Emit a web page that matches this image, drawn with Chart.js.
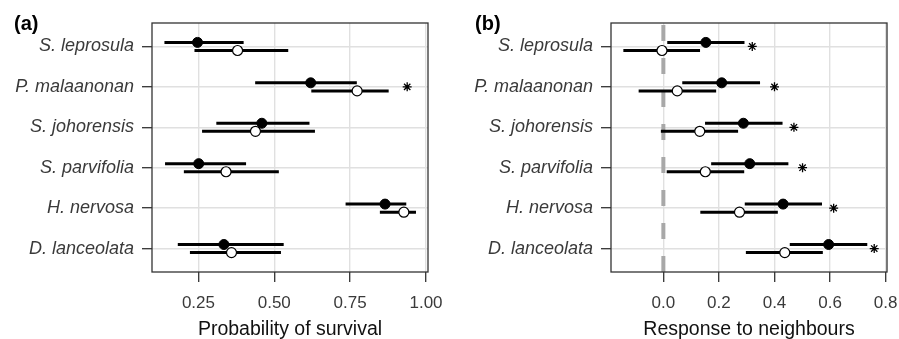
<!DOCTYPE html>
<html>
<head>
<meta charset="utf-8">
<script src="https://cdn.jsdelivr.net/npm/chart.js@4.4.1/dist/chart.umd.min.js"></script>
<style>
  html, body { margin: 0; padding: 0; background: #fff; }
  #wrap { position: relative; width: 899px; height: 339px; overflow: hidden; }
  canvas { position: absolute; top: 0; }
  #cA { left: 0; }
  #cB { left: 449px; }
  .tag { position: absolute; top: 13px; font: bold 20px/1 'Liberation Sans', Arial, sans-serif; color: #000; }
</style>
</head>
<body>
<div id="wrap">
  <canvas id="cA" width="449" height="339"></canvas>
  <canvas id="cB" width="450" height="339"></canvas>
  <div class="tag" style="left:14px">(a)</div>
  <div class="tag" style="left:475px">(b)</div>
</div>
<script>
const species = ['S. leprosula', 'P. malaanonan', 'S. johorensis', 'S. parvifolia', 'H. nervosa', 'D. lanceolata'];

// (a) probability of survival
const survFilled   = [0.247, 0.620, 0.459, 0.251, 0.865, 0.334];
const survFilledLo = [0.138, 0.437, 0.309, 0.140, 0.735, 0.182];
const survFilledHi = [0.399, 0.772, 0.616, 0.407, 0.935, 0.531];
const survOpen     = [0.379, 0.773, 0.438, 0.341, 0.927, 0.359];
const survOpenLo   = [0.237, 0.622, 0.262, 0.202, 0.848, 0.222];
const survOpenHi   = [0.546, 0.877, 0.634, 0.515, 0.967, 0.522];
const survStar     = [null, 0.938, null, null, null, null];

// (b) response to neighbours
const respFilled   = [0.153, 0.210, 0.288, 0.311, 0.431, 0.595];
const respFilledLo = [0.014, 0.068, 0.150, 0.172, 0.293, 0.455];
const respFilledHi = [0.292, 0.348, 0.429, 0.450, 0.571, 0.734];
const respOpen     = [-0.005, 0.050, 0.131, 0.151, 0.274, 0.437];
const respOpenLo   = [-0.144, -0.089, -0.009, 0.012, 0.133, 0.297];
const respOpenHi   = [0.132, 0.190, 0.269, 0.291, 0.412, 0.574];
const respStar     = [0.320, 0.400, 0.470, 0.501, 0.613, 0.759];

const FONT = "'Liberation Sans', Arial, sans-serif";
const Y_MIN = -0.58, Y_MAX = 5.58;
const DODGE = 0.1;

// closes the panel box on all four sides
const boxPlugin = {
  id: 'box',
  afterDraw(chart) {
    const a = chart.chartArea, ctx = chart.ctx;
    ctx.save();
    ctx.strokeStyle = '#333';
    ctx.lineWidth = 1.3;
    ctx.strokeRect(a.left, a.top, a.right - a.left, a.bottom - a.top);
    ctx.restore();
  }
};

function points(vals, off) {
  return vals.map((v, i) => ({ x: v, y: i + off }));
}

// error bars as line segments, broken by null y
function segments(lo, hi, off) {
  const out = [];
  lo.forEach((v, i) => {
    out.push({ x: v, y: i + off }, { x: hi[i], y: i + off }, { x: hi[i], y: null });
  });
  return out;
}

function makePanel(id, p) {
  const datasets = [
    { data: points(p.open, DODGE), backgroundColor: '#fff', borderColor: '#000', borderWidth: 1.2, pointRadius: 5, order: 0 },
    { data: points(p.filled, -DODGE), backgroundColor: '#000', borderColor: '#000', borderWidth: 1, pointRadius: 5, order: 0 },
    { data: p.star.map((v, i) => ({ x: v, y: i })).filter(d => d.x !== null), pointStyle: 'star', pointRadius: 4.5, borderWidth: 1.3, borderColor: '#000', order: 0 },
    { data: segments(p.filledLo, p.filledHi, -DODGE), showLine: true, spanGaps: false, pointRadius: 0, borderColor: '#000', borderWidth: 3, borderCapStyle: 'butt', order: 1 },
    { data: segments(p.openLo, p.openHi, DODGE), showLine: true, spanGaps: false, pointRadius: 0, borderColor: '#000', borderWidth: 3, borderCapStyle: 'butt', order: 1 },
  ];
  if (p.zeroLine) {
    datasets.push({ data: [{ x: 0, y: Y_MAX }, { x: 0, y: Y_MIN }], showLine: true, pointRadius: 0, borderColor: '#a8a8a8', borderWidth: 4, borderDash: [16, 17], borderCapStyle: 'butt', order: 2 });
  }

  return new Chart(document.getElementById(id), {
    type: 'scatter',
    data: { datasets },
    plugins: [boxPlugin],
    options: {
      responsive: false,
      animation: false,
      events: [],
      layout: { padding: { top: 23, right: p.padRight, left: 0, bottom: 0 } },
      plugins: { legend: { display: false }, tooltip: { enabled: false } },
      scales: {
        x: {
          type: 'linear',
          min: p.xMin,
          max: p.xMax,
          afterFit: s => { s.height = 67; s.paddingLeft = 0; s.paddingRight = 0; },
          grid: { color: '#e0e0e0', lineWidth: 1.4, tickColor: '#333', tickWidth: 1.3, tickLength: 10 },
          border: { display: false },
          ticks: {
            stepSize: p.step,
            includeBounds: false,
            padding: 11,
            color: '#3a3a3a',
            font: { family: FONT, size: 17 },
            callback: v => v.toFixed(p.digits),
          },
          title: { display: true, text: p.title, color: '#111', font: { family: FONT, size: 19.5, lineHeight: 1 }, padding: { top: 0, bottom: 0 } },
        },
        y: {
          type: 'linear',
          reverse: true,
          min: Y_MIN,
          max: Y_MAX,
          afterFit: s => { s.width = p.yWidth; s.paddingTop = 0; s.paddingBottom = 0; },
          grid: { color: '#e0e0e0', lineWidth: 1.4, tickColor: '#333', tickWidth: 1.3, tickLength: 10 },
          border: { display: false },
          ticks: {
            stepSize: 1,
            includeBounds: false,
            padding: 8,
            color: '#3a3a3a',
            font: { family: FONT, size: 18, style: 'italic' },
            callback: v => species[v],
          },
        },
      },
    },
  });
}

makePanel('cA', {
  filled: survFilled, filledLo: survFilledLo, filledHi: survFilledHi,
  open: survOpen, openLo: survOpenLo, openHi: survOpenHi, star: survStar,
  xMin: 0.097, xMax: 1.0066, step: 0.25, digits: 2,
  title: 'Probability of survival', yWidth: 152, padRight: 21, zeroLine: false,
});

makePanel('cB', {
  filled: respFilled, filledLo: respFilledLo, filledHi: respFilledHi,
  open: respOpen, openLo: respOpenLo, openHi: respOpenHi, star: respStar,
  xMin: -0.1885, xMax: 0.805, step: 0.2, digits: 1,
  title: 'Response to neighbours', yWidth: 162, padRight: 12, zeroLine: true,
});
</script>
</body>
</html>
